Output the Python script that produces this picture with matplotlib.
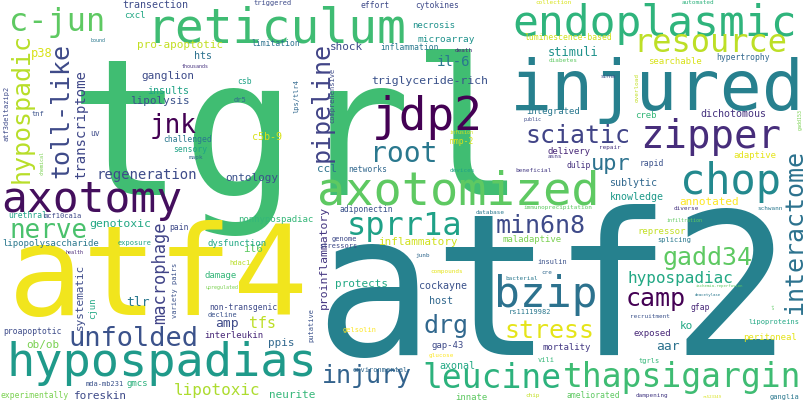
import matplotlib
matplotlib.use("Agg")
import matplotlib.pyplot as plt

# word, centre x, centre y (pixels), em size (px), rotation, colour
words = [
    ("tgrl", 298, 142, 190, 0, "#40bd72"),
    ("atf2", 553, 300, 198, 0, "#26818e"),
    ("atf4", 158, 280, 125, 0, "#f1e51d"),
    ("injured", 657, 90, 70, 0, "#27808e"),
    ("reticulum", 276, 29, 48, 0, "#3fbc73"),
    ("endoplasmic", 655, 24, 43, 0, "#2fb47c"),
    ("axotomized", 458, 192, 47, 0, "#5ec962"),
    ("hypospadias", 162, 364, 47, 0, "#1f9a8a"),
    ("axotomy", 92, 200, 43, 0, "#440f5d"),
    ("jdp2", 427, 117, 46, 0, "#440154"),
    ("bzip", 546, 295, 43, 0, "#2c728e"),
    ("chop", 730, 182, 42, 0, "#23898e"),
    ("zipper", 711, 137, 39, 0, "#472d7b"),
    ("leucine", 492, 378, 33, 0, "#2db27d"),
    ("thapsigargin", 682, 378, 33, 0, "#3fbc73"),
    ("sprr1a", 404, 226, 32, 0, "#1fa187"),
    ("resource", 710, 43, 32, 0, "#bddf26"),
    ("c-jun", 57, 22, 32, 0, "#5ec962"),
    ("unfolded", 133, 339, 27, 0, "#3b528b"),
    ("nerve", 49, 231, 26, 0, "#4ac16d"),
    ("jnk", 173, 126, 26, 0, "#440154"),
    ("root", 404, 154, 28, 0, "#2a788e"),
    ("sciatic", 578, 136, 25, 0, "#414487"),
    ("min6n8", 541, 226, 25, 0, "#3e4a89"),
    ("gadd34", 707, 258, 25, 0, "#5ec962"),
    ("stress", 549, 331, 25, 0, "#e5e419"),
    ("drg", 446, 326, 25, 0, "#31688e"),
    ("camp", 656, 299, 25, 0, "#440154"),
    ("injury", 367, 376, 25, 0, "#33638d"),
    ("upr", 611, 164, 22, 0, "#2c728e"),
    ("hypospadic", 22, 108, 25, 90, "#b8de29"),
    ("toll-like", 61, 110, 25, 90, "#3e4a89"),
    ("pipeline", 322, 102, 25, 90, "#414487"),
    ("interactome", 795, 232, 25, 90, "#2c728e"),
    ("macrophage", 160, 273, 17, 90, "#404387"),
    ("transcriptome", 81, 125, 14, 90, "#3f4788"),
    ("proinflammatory", 324, 257, 11.5, 90, "#453781"),
    ("systematic", 80, 297, 11, 90, "#3e4c8a"),
    ("hypospadiac", 680, 278, 16, 0, "#22a884"),
    ("lipotoxic", 217, 390, 16, 0, "#addc30"),
    ("tfs", 263, 323, 15, 0, "#bddf26"),
    ("regeneration", 147, 175, 14, 0, "#3e4c8a"),
    ("il-6", 454, 62, 14, 0, "#2a788e"),
    ("tlr", 138, 303, 13, 0, "#2a788e"),
    ("amp", 227, 323, 13, 0, "#3e4a89"),
    ("aar", 668, 347, 13, 0, "#2c728e"),
    ("stimuli", 573, 52, 12, 0, "#20928c"),
    ("triglyceride-rich", 430, 81, 11.5, 0, "#3b528b"),
    ("genotoxic", 120, 224, 11.5, 0, "#22a884"),
    ("p38", 42, 53, 12, 0, "#d8e219"),
    ("inflammatory", 418, 242, 11, 0, "#d0e11c"),
    ("ganglion", 168, 76, 11, 0, "#3e4c8a"),
    ("lipolysis", 160, 101, 11, 0, "#3b528b"),
    ("pro-apoptotic", 180, 45, 11, 0, "#c2df23"),
    ("shock", 346, 47, 11, 0, "#3e4a89"),
    ("ccl", 327, 169, 11, 0, "#2c728e"),
    ("ontology", 252, 178, 11, 0, "#3b528b"),
    ("il6", 253, 249, 11, 0, "#5ec962"),
    ("protects", 361, 284, 11, 0, "#22a884"),
    ("ppis", 281, 343, 11, 0, "#31688e"),
    ("ob/ob", 43, 345, 11, 0, "#7ad151"),
    ("foreskin", 100, 396, 11, 0, "#3e4a89"),
    ("neurite", 292, 395, 11, 0, "#35b779"),
    ("annotated", 709, 202, 11, 0, "#fde725"),
    ("ko", 686, 326, 11, 0, "#22a884"),
    ("dichotomous", 733, 114, 10, 0, "#46327e"),
    ("sublytic", 633, 183, 10, 0, "#31688e"),
    ("knowledge", 637, 197, 10, 0, "#1f9a8a"),
    ("cockayne", 443, 286, 10, 0, "#3b528b"),
    ("host", 441, 301, 10, 0, "#31688e"),
    ("axonal", 457, 366, 10, 0, "#22a884"),
    ("insults", 168, 91, 10, 0, "#20a386"),
    ("hts", 203, 56, 10, 0, "#2c728e"),
    ("transection", 155, 5, 10, 0, "#3e4c8a"),
    ("c5b-9", 267, 137, 10, 0, "#d8e219"),
    ("lipopolysaccharide", 51, 243, 9, 0, "#2a788e"),
    ("cxcl", 135, 15, 9, 0, "#22a884"),
    ("necrosis", 434, 25, 9, 0, "#20928c"),
    ("microarray", 446, 39, 9.5, 0, "#20928c"),
    ("searchable", 675, 61, 9, 0, "#d8e219"),
    ("integrated", 553, 112, 9, 0, "#2a788e"),
    ("creb", 646, 116, 9, 0, "#35b779"),
    ("delivery", 569, 152, 9, 0, "#482878"),
    ("adaptive", 755, 156, 9, 0, "#e5e419"),
    ("repressor", 662, 232, 9, 0, "#c2df23"),
    ("maladaptive", 532, 240, 9, 0, "#7ad151"),
    ("exposed", 652, 334, 9, 0, "#482878"),
    ("peritoneal", 770, 337, 9, 0, "#e5e419"),
    ("gap-43", 448, 345, 9, 0, "#3e4a89"),
    ("mortality", 567, 347, 9, 0, "#443983"),
    ("innate", 471, 397, 9, 0, "#5ec962"),
    ("nonhypospadiac", 276, 220, 9, 0, "#35b779"),
    ("dysfunction", 237, 243, 9, 0, "#22a884"),
    ("damage", 221, 275, 9, 0, "#35b779"),
    ("interleukin", 234, 336, 9, 0, "#482878"),
    ("gmcs", 137, 384, 9, 0, "#2db27d"),
    ("limitation", 276, 44, 8, 0, "#2c728e"),
    ("inflammation", 410, 47, 8, 0, "#2a788e"),
    ("hypertrophy", 743, 58, 8, 0, "#31688e"),
    ("luminescence-based", 568, 38, 8, 0, "#d0e11c"),
    ("cytokines", 437, 5, 8, 0, "#3e4a89"),
    ("effort", 375, 5, 8, 0, "#3e4a89"),
    ("networks", 368, 170, 8, 0, "#31688e"),
    ("challenged", 188, 139, 8, 0, "#2a788e"),
    ("sensory", 190, 149, 8, 0, "#20a386"),
    ("rapid", 652, 164, 8, 0, "#3b528b"),
    ("dulip", 579, 165, 8, 0, "#46327e"),
    ("urethral", 28, 216, 8, 0, "#20a386"),
    ("uv", 95, 133, 8, 0, "#3e4c8a"),
    ("pain", 179, 228, 8, 0, "#3e4a89"),
    ("adiponectin", 366, 209, 8, 0, "#3b528b"),
    ("non-transgenic", 243, 307, 8, 0, "#3e4a89"),
    ("proapoptotic", 33, 331, 8, 0, "#3e4c8a"),
    ("experimentally", 35, 395, 8, 0, "#7ad151"),
    ("ameliorated", 593, 396, 8, 0, "#5ec962"),
    ("mmp-2", 462, 141, 8, 0, "#d8e219"),
    ("gfap", 700, 308, 8, 0, "#482878"),
    ("mcf10ca1a", 63, 216, 7, 0, "#3e4a89"),
    ("rs11119982", 530, 312, 7, 0, "#2a788e"),
    ("lipoproteins", 774, 322, 7, 0, "#22a884"),
    ("vili", 546, 360, 7, 0, "#35b779"),
    ("tgrls", 649, 361, 7, 0, "#35b779"),
    ("ganglia", 785, 397, 7, 0, "#2a788e"),
    ("mda-mb231", 105, 384, 7, 0, "#3b528b"),
    ("environmental", 380, 370, 7, 0, "#31688e"),
    ("insulin", 552, 262, 7, 0, "#3b528b"),
    ("splicing", 674, 240, 7, 0, "#2a788e"),
    ("genome", 344, 239, 7, 0, "#3e4a89"),
    ("stressors", 338, 246, 7, 0, "#3e4a89"),
    ("exposure", 135, 243, 7, 0, "#20a386"),
    ("hdac1", 240, 263, 7, 0, "#b8de29"),
    ("decline", 223, 315, 7, 0, "#3b528b"),
    ("triggered", 273, 3, 7, 0, "#3e4c8a"),
    ("tnf", 38, 114, 7, 0, "#3b528b"),
    ("dr5", 240, 100, 7, 0, "#31688e"),
    ("csb", 245, 82, 8, 0, "#20a386"),
    ("junb", 423, 255, 6, 0, "#31688e"),
    ("compounds", 447, 272, 6, 0, "#e5e419"),
    ("cre", 547, 273, 6, 0, "#31688e"),
    ("bacterial", 522, 278, 6, 0, "#2a788e"),
    ("recruitment", 650, 317, 6, 0, "#3b528b"),
    ("glucose", 441, 356, 6, 0, "#fde725"),
    ("chip", 533, 395, 6, 0, "#c2df23"),
    ("dampening", 652, 396, 6, 0, "#443983"),
    ("database", 490, 212, 6, 0, "#2a788e"),
    ("immunoprecipitation", 558, 208, 6, 0, "#5ec962"),
    ("diverse", 686, 209, 6, 0, "#46327e"),
    ("schwann", 770, 209, 6, 0, "#2a788e"),
    ("devices", 462, 170, 6, 0, "#20a386"),
    ("beneficial", 534, 171, 6, 0, "#443983"),
    ("repair", 610, 147, 6, 0, "#46327e"),
    ("asns", 555, 156, 6, 0, "#443983"),
    ("death", 464, 50, 6, 0, "#482878"),
    ("diabetes", 563, 61, 6, 0, "#5ec962"),
    ("collection", 554, 3, 6, 0, "#d8e219"),
    ("automated", 698, 3, 6, 0, "#2db27d"),
    ("mapk", 196, 157, 6, 0, "#31688e"),
    ("public", 533, 119, 5, 0, "#3e4a89"),
    ("sirna", 608, 77, 5, 0, "#3e4a89"),
    ("infiltration", 685, 220, 5, 0, "#5ec962"),
    ("health", 75, 253, 5, 0, "#482878"),
    ("upregulated", 222, 288, 5, 0, "#7ad151"),
    ("gelsolin", 360, 330, 7, 0, "#fde725"),
    ("infusion", 462, 132, 5, 0, "#d8e219"),
    ("thousands", 195, 66, 5, 0, "#46327e"),
    ("bound", 98, 40, 5, 0, "#2a788e"),
    ("atf3deltazip2", 7, 113, 7, 90, "#3e4a89"),
    ("chemical", 42, 163, 5, 90, "#7ad151"),
    ("lps/tlr4", 296, 96, 7, 90, "#31688e"),
    ("comprehensive", 332, 95, 7, 90, "#3e4a89"),
    ("variety pairs", 175, 290, 7, 90, "#3b528b"),
    ("cjun", 93, 308, 9, 90, "#22a884"),
    ("putative", 311, 325, 7, 90, "#3b528b"),
    ("overload", 637, 88, 6, 90, "#c2df23"),
    ("gadd153", 800, 120, 5, 90, "#7ad151"),
    ("wt", 774, 307, 4, 90, "#5ec962"),
    ("ischemia-reperfusion", 719, 286, 4, 0, "#5ec962"),
    ("deacetylase", 708, 295, 4, 0, "#2a788e"),
    ("rs523349", 712, 397, 4, 0, "#d8e219"),
]

W, H = 808, 404
fig = plt.figure(figsize=(W / 100, H / 100), dpi=100)
ax = fig.add_axes([0, 0, 1, 1])
ax.set_xlim(0, W)
ax.set_ylim(H, 0)
ax.axis("off")
fig.patch.set_facecolor("white")

for w, x, y, em, rot, c in words:
    ax.text(x, y, w, fontsize=em * 72 / 100, rotation=rot, color=c,
            ha="center", va="center", family="DejaVu Sans Mono")

fig.savefig("out.png", dpi=100, facecolor="white")
